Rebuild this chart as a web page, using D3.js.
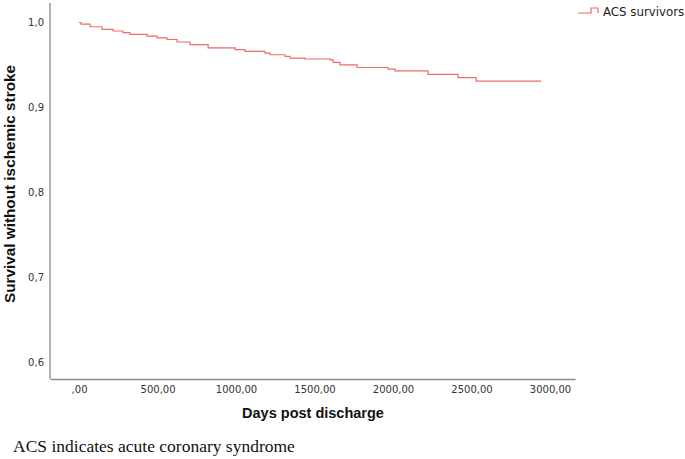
<!DOCTYPE html>
<html>
<head>
<meta charset="utf-8">
<script src="https://cdn.jsdelivr.net/npm/d3@7"></script>
<style>
  body { margin: 0; background: #fff; }
  svg { display: block; }
</style>
</head>
<body>
<script>
let width = 685,
    height = 459

// Kaplan-Meier steps: days post discharge, survival
const days = [0, 13, 70, 146, 217, 280, 325, 433, 497, 560, 624, 707, 822, 994, 1057, 1185, 1217, 1312, 1344, 1439, 1599, 1618, 1662, 1771, 1968, 2013, 2223, 2414, 2529, 2943]
const survival = [1.000, 0.998, 0.995, 0.992, 0.990, 0.988, 0.986, 0.984, 0.982, 0.980, 0.977, 0.974, 0.970, 0.968, 0.966, 0.964, 0.962, 0.960, 0.958, 0.957, 0.956, 0.953, 0.950, 0.947, 0.945, 0.943, 0.939, 0.935, 0.931, 0.931]
const xTicks = [0, 500, 1000, 1500, 2000, 2500, 3000]
const yTicks = [0.6, 0.7, 0.8, 0.9, 1.0]
const seriesName = 'ACS survivors'

let svg = d3.select('body').append('svg')
  .attr('width', width)
  .attr('height', height)

const x = d3.scaleLinear().domain([-185, 3159]).range([50, 575])
const y = d3.scaleLinear().domain([0.58, 1.0]).range([379, 22.5])

const lineColor = '#ec6b6b'
const axisColor = '#8a8a8a'
const fmtX = d => d === 0 ? ',00' : d3.format('.2f')(d).replace('.', ',')
const fmtY = d => d3.format('.1f')(d).replace('.', ',')

// axes
let xAxis = svg.append('g')
  .attr('transform', `translate(0, ${y(0.58)})`)
  .call(d3.axisBottom(x).tickValues(xTicks).tickSize(0).tickPadding(7).tickFormat(fmtX))
xAxis.select('.domain').attr('stroke', axisColor).attr('stroke-width', 1.3)
xAxis.selectAll('text')
  .style('font-family', 'DejaVu Sans')
  .style('font-size', '10px')
  .attr('fill', '#333')

let yAxis = svg.append('g')
  .attr('transform', `translate(${x(-185)}, 0)`)
  .call(d3.axisLeft(y).tickValues(yTicks).tickSize(0).tickPadding(6).tickFormat(fmtY))
yAxis.select('.domain')
  .attr('d', `M0,${y(0.58)}V3`)
  .attr('stroke', axisColor).attr('stroke-width', 1.3)
yAxis.selectAll('text')
  .style('font-family', 'DejaVu Sans')
  .style('font-size', '10px')
  .attr('fill', '#333')

// survival curve
const pts = days.map((d, i) => [d, survival[i]])
const line = d3.line().x(d => x(d[0])).y(d => y(d[1])).curve(d3.curveStepAfter)
svg.append('path')
  .datum(pts)
  .attr('d', line)
  .attr('fill', 'none')
  .attr('stroke', lineColor)
  .attr('stroke-width', 1.2)

// axis titles
svg.append('text')
  .attr('x', 313).attr('y', 418)
  .attr('text-anchor', 'middle')
  .style('font-family', 'Liberation Sans')
  .style('font-weight', 'bold')
  .style('font-size', '14.5px')
  .attr('fill', '#111')
  .text('Days post discharge')

svg.append('text')
  .attr('transform', 'translate(15, 184) rotate(-90)')
  .attr('text-anchor', 'middle')
  .style('font-family', 'Liberation Sans')
  .style('font-weight', 'bold')
  .style('font-size', '15.3px')
  .attr('fill', '#111')
  .text('Survival without ischemic stroke')

// legend
let legend = svg.append('g')
legend.append('path')
  .attr('d', 'M578,13H591V8H598V13')
  .attr('fill', 'none')
  .attr('stroke', lineColor)
  .attr('stroke-width', 1.2)
legend.append('text')
  .attr('x', 603).attr('y', 16)
  .style('font-family', 'DejaVu Sans')
  .style('font-size', '11.8px')
  .attr('fill', '#222')
  .text(seriesName)

// footnote
svg.append('text')
  .attr('x', 13).attr('y', 452)
  .style('font-family', 'Liberation Serif')
  .style('font-size', '17.5px')
  .attr('fill', '#111')
  .text('ACS indicates acute coronary syndrome')
</script>
</body>
</html>
